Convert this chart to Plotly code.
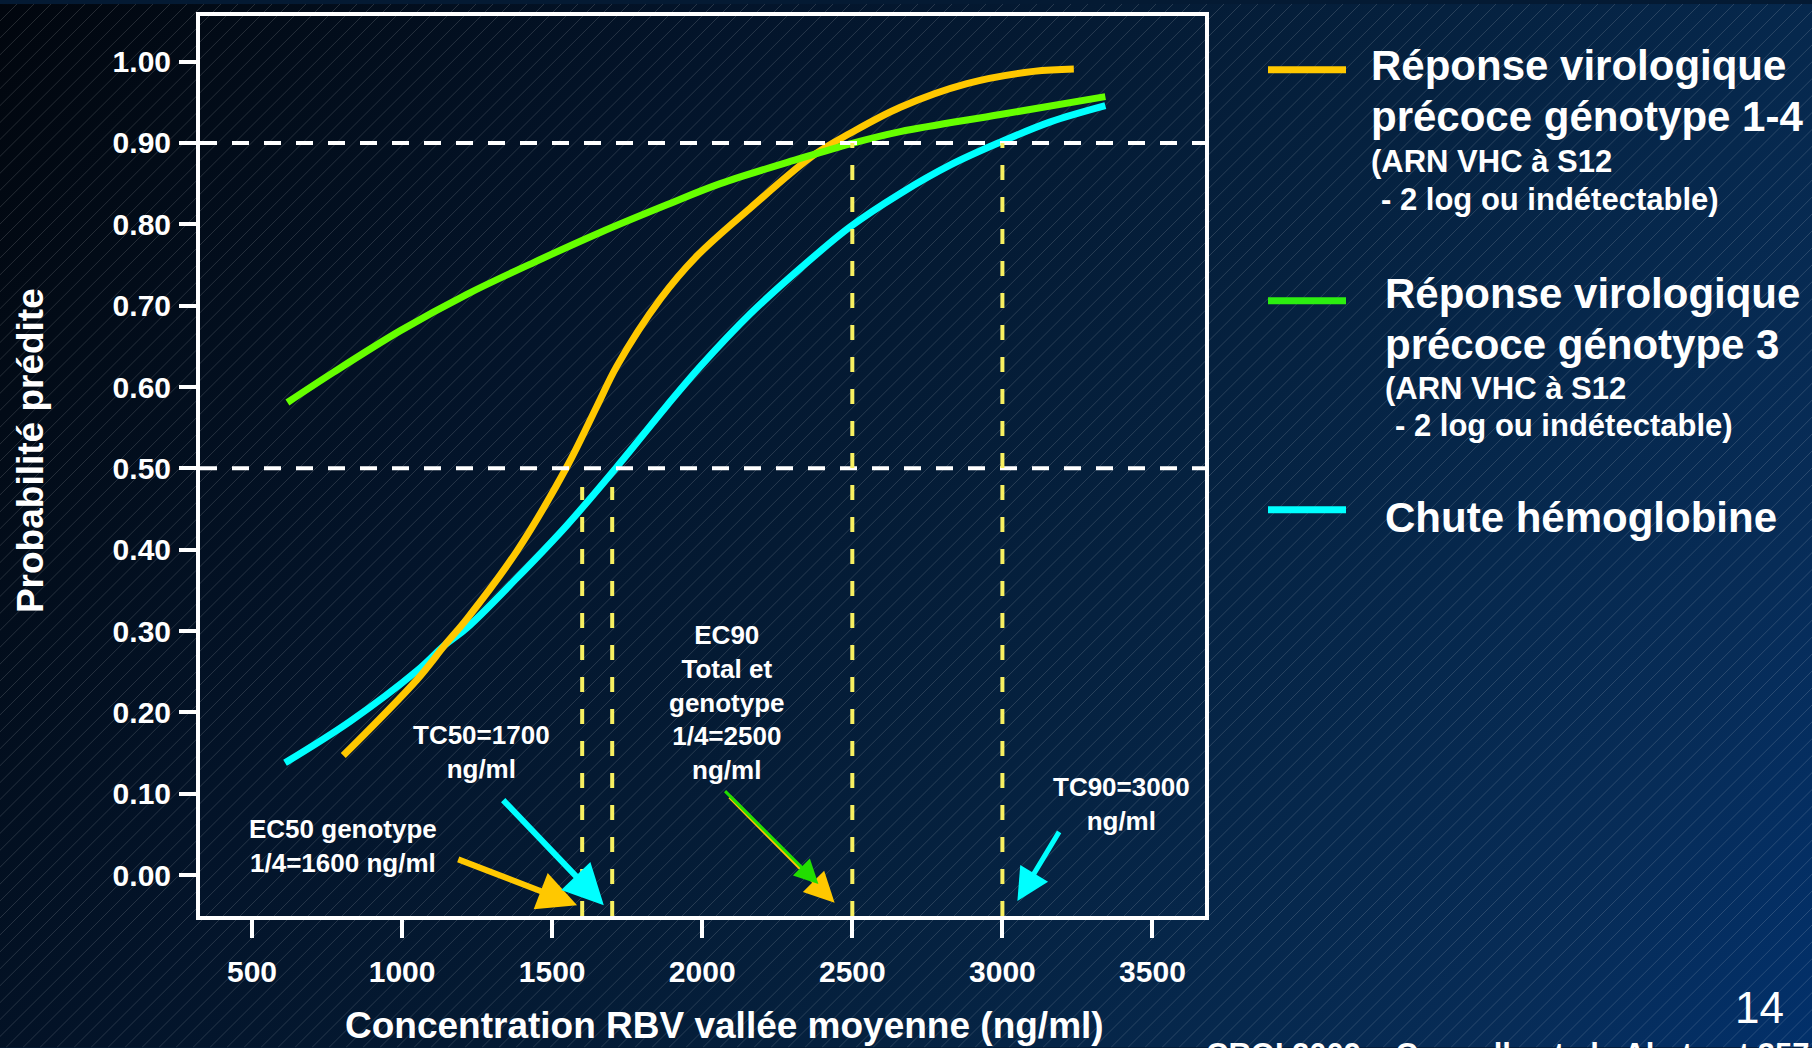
import base64
import plotly.graph_objects as go

# ---- data: predicted probability vs mean RBV trough concentration (ng/ml) ----
conc_g14 = [804, 1049, 1143, 1216, 1382, 1549, 1650, 1716, 1860, 1982, 2160,
            2371, 2493, 2660, 2882, 3104, 3238]
prob_g14 = [0.147, 0.240, 0.283, 0.315, 0.398, 0.502, 0.577, 0.626, 0.708, 0.761,
            0.820, 0.885, 0.912, 0.944, 0.973, 0.988, 0.991]

conc_g3 = [618, 771, 993, 1216, 1438, 1660, 1882, 2060, 2327, 2493, 2660, 2993, 3343]
prob_g3 = [0.581, 0.618, 0.669, 0.714, 0.753, 0.790, 0.824, 0.850, 0.881, 0.899,
           0.914, 0.935, 0.957]

conc_hb = [610, 827, 1049, 1143, 1216, 1382, 1549, 1716, 1882, 1993, 2160, 2327,
           2493, 2660, 2827, 2993, 3160, 3343]
prob_hb = [0.138, 0.189, 0.251, 0.283, 0.304, 0.365, 0.430, 0.502, 0.577, 0.625,
           0.690, 0.746, 0.797, 0.838, 0.873, 0.901, 0.926, 0.946]

x_ticks = [500, 1000, 1500, 2000, 2500, 3000, 3500]
y_ticks = [0.0, 0.1, 0.2, 0.3, 0.4, 0.5, 0.6, 0.7, 0.8, 0.9, 1.0]
prob_levels = [0.5, 0.9]

# threshold concentrations (ng/ml) and the probability level each one refers to
ec50_g14 = 1600
tc50 = 1700
ec90_g14 = 2500
tc90 = 3000
thresholds = [(ec50_g14, 0.5), (tc50, 0.5), (ec90_g14, 0.9), (tc90, 0.9)]

series_names = ["Réponse virologique précoce génotype 1-4",
                "Réponse virologique précoce génotype 3",
                "Chute hémoglobine"]

# ---- styling ----
W, H = 1812, 1048
PL, PR, PT, PB = 200, 1205, 12, 916          # plot frame in pixels
X_RANGE = [326.7, 3675]
Y_RANGE = [-0.0503, 1.0561]
FONT = "Liberation Sans, Arial, sans-serif"
ORANGE = "#ffc800"
GREEN = "#66ff00"
GREEN_KEY = "#2cee10"
CYAN = "#00ffff"
YELLOW = "#f8f060"


def px_x(px):
    return (px - PL) / (PR - PL)


def px_y(py):
    return (PB - py) / (PB - PT)


# slide background: diagonal navy gradient with fine hatching
stops = [(0.0, "#01060e"), (0.1, "#020b17"), (0.3, "#03142a"), (0.45, "#041a33"),
         (0.6, "#05213f"), (0.75, "#06284d"), (0.87, "#072c57"), (1.0, "#02306a")]
stop_xml = "".join(f'<stop offset="{o}" stop-color="{c}"/>' for o, c in stops)
spacing = 17
segs = []
x0 = -H
while x0 < W + spacing:
    segs.append(f"M{x0},{H}L{x0 + H},0")
    x0 += spacing
svg = (f'<svg xmlns="http://www.w3.org/2000/svg" width="{W}" height="{H}" '
       f'viewBox="0 0 {W} {H}" preserveAspectRatio="none">'
       f'<defs><linearGradient id="g" gradientUnits="userSpaceOnUse" x1="0" y1="0" '
       f'x2="{W}" y2="{H}">{stop_xml}</linearGradient></defs>'
       f'<rect width="{W}" height="{H}" fill="url(#g)"/>'
       f'<path d="{"".join(segs)}" stroke="#ffffff" stroke-opacity="0.15" '
       f'stroke-width="1" fill="none"/></svg>')
bg_uri = "data:image/svg+xml;base64," + base64.b64encode(svg.encode()).decode()

fig = go.Figure()

# curves
curve_line = dict(width=7, shape="spline", smoothing=1.0)
fig.add_trace(go.Scatter(x=conc_hb, y=prob_hb, mode="lines", name=series_names[2],
                         line=dict(color=CYAN, **curve_line)))
fig.add_trace(go.Scatter(x=conc_g14, y=prob_g14, mode="lines", name=series_names[0],
                         line=dict(color=ORANGE, **curve_line)))
fig.add_trace(go.Scatter(x=conc_g3, y=prob_g3, mode="lines", name=series_names[1],
                         line=dict(color=GREEN, **curve_line)))

# probability reference levels
for lvl in prob_levels:
    fig.add_shape(type="line", xref="paper", yref="y", x0=0, x1=1, y0=lvl, y1=lvl,
                  line=dict(color="white", width=4, dash="17px,15px"))

# threshold concentrations dropped to the x axis
for conc, lvl in thresholds:
    top = lvl - 0.023 if lvl < 0.6 else lvl
    fig.add_shape(type="line", xref="x", yref="y", x0=conc, x1=conc,
                  y0=Y_RANGE[0], y1=top,
                  line=dict(color=YELLOW, width=4, dash="15px,17px"))


def arrow(tip_x, tip_y, tail_x, tail_y, color, width, size):
    fig.add_annotation(x=tip_x, y=tip_y, ax=tail_x, ay=tail_y,
                       xref="x", yref="y", axref="x", ayref="y",
                       text="", showarrow=True, arrowhead=2, arrowwidth=width,
                       arrowsize=size, arrowcolor=color, standoff=0, startstandoff=0)


def label(x, y, text, size=26):
    fig.add_annotation(x=x, y=y, xref="x", yref="y", text=text, showarrow=False,
                       xanchor="center", yanchor="middle", align="center",
                       font=dict(family=FONT, size=size, color="white", weight="bold"))


# threshold callouts
label(803, 0.036, "EC50 genotype<br>1/4=1600 ng/ml")
arrow(ec50_g14 - 17, -0.037, 1182, 0.020, ORANGE, 6, 1.3)

label(1266, 0.151, "TC50=1700<br>ng/ml")
arrow(tc50 - 28, -0.037, 1332, 0.094, CYAN, 6, 1.35)

label(2083, 0.212, "EC90<br>Total et<br>genotype<br>1/4=2500<br>ng/ml")
arrow(ec90_g14 - 59, -0.034, 2087, 0.098, ORANGE, 4, 1.5)
arrow(ec90_g14 - 113, -0.011, 2071, 0.105, "#22dd00", 3, 1.6)

label(3397, 0.087, "TC90=3000<br>ng/ml")
arrow(tc90 + 50, -0.032, 3192, 0.055, CYAN, 5, 1.3)

# key on the right
key = [
    (ORANGE, 66, 1369, [("Réponse virologique", 42, 62, 0),
                        ("précoce génotype 1-4", 42, 113, 0),
                        ("(ARN VHC à S12", 31, 158, 0),
                        ("- 2 log ou indétectable)", 31, 196, 10)]),
    (GREEN_KEY, 298, 1383, [("Réponse virologique", 42, 291, 0),
                            ("précoce génotype 3", 42, 342, 0),
                            ("(ARN VHC à S12", 31, 386, 0),
                            ("- 2 log ou indétectable)", 31, 423, 10)]),
    (CYAN, 508, 1383, [("Chute hémoglobine", 42, 516, 0)]),
]
for color, ly, tx, lines in key:
    fig.add_shape(type="line", xref="paper", yref="paper",
                  x0=px_x(1268), x1=px_x(1346), y0=px_y(ly), y1=px_y(ly),
                  line=dict(color=color, width=7))
    for text, size, ty, indent in lines:
        fig.add_annotation(x=px_x(tx + indent), y=px_y(ty), xref="paper", yref="paper",
                           text=text, showarrow=False, xanchor="left", yanchor="middle",
                           font=dict(family=FONT, size=size, color="white", weight="bold"))

# axis titles
fig.add_annotation(x=px_x(724), y=px_y(1026), xref="paper", yref="paper",
                   text="Concentration RBV vallée moyenne (ng/ml)", showarrow=False,
                   xanchor="center", yanchor="middle",
                   font=dict(family=FONT, size=37, color="white", weight="bold"))
fig.add_annotation(x=px_x(30), y=px_y(449), xref="paper", yref="paper",
                   text="Probabilité prédite", showarrow=False, textangle=-90,
                   xanchor="center", yanchor="middle",
                   font=dict(family=FONT, size=37, color="white", weight="bold"))

# slide number and source line (runs off the bottom edge of the slide)
fig.add_annotation(x=px_x(1759), y=px_y(1008), xref="paper", yref="paper",
                   text="14", showarrow=False, xanchor="center", yanchor="middle",
                   font=dict(family=FONT, size=44, color="white"))
fig.add_annotation(x=px_x(1204), y=px_y(1036), xref="paper", yref="paper",
                   text="CROI 2009 – Connolly et al., Abstract 357", showarrow=False,
                   xanchor="left", yanchor="top",
                   font=dict(family=FONT, size=31, color="white", weight="bold"))

axis_common = dict(showgrid=False, zeroline=False, showline=True, linecolor="white",
                   linewidth=4, mirror=True, ticks="outside", tickcolor="white",
                   tickwidth=4, fixedrange=True,
                   tickfont=dict(family=FONT, size=30, color="white", weight="bold"))

fig.update_layout(
    width=W, height=H, autosize=False,
    margin=dict(l=PL, r=W - PR, t=PT, b=H - PB, pad=0),
    paper_bgcolor="#041a33", plot_bgcolor="rgba(0,0,0,0)",
    showlegend=False,
    xaxis=dict(range=X_RANGE, tickvals=x_ticks, ticklen=18, ticklabelstandoff=8,
               **axis_common),
    yaxis=dict(range=Y_RANGE, tickvals=y_ticks, tickformat=".2f", ticklen=17,
               ticklabelstandoff=2, **axis_common),
    images=[dict(source=bg_uri, xref="paper", yref="paper",
                 x=px_x(0), y=px_y(0), sizex=px_x(W) - px_x(0), sizey=px_y(0) - px_y(H),
                 xanchor="left", yanchor="top", sizing="stretch", layer="below")],
)

fig.write_html("out.html", config={"displayModeBar": False})
